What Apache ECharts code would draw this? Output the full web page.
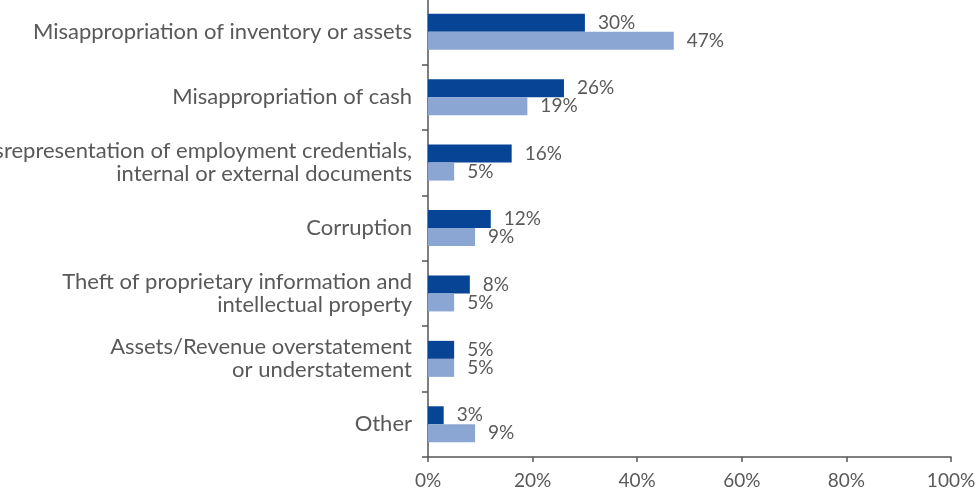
<!DOCTYPE html>
<html><head><meta charset="utf-8">
<script src="https://cdn.jsdelivr.net/npm/echarts@6/dist/echarts.min.js"></script>
<style>html,body{margin:0;padding:0;background:#fff}#c{width:975px;height:498px}</style>
</head><body><div id="c"></div>
<script>
var categories = [
  "Misappropriation of inventory or assets",
  "Misappropriation of cash",
  "Misrepresentation of employment credentials,\ninternal or external documents",
  "Corruption",
  "Theft of proprietary information and\nintellectual property",
  "Assets/Revenue overstatement\nor understatement",
  "Other"
];
var seriesA = [30, 26, 16, 12, 8, 5, 3];
var seriesB = [47, 19, 5, 9, 5, 5, 9];
var xTicks = [0, 20, 40, 60, 80, 100];

var font = "Lato";
var chart = echarts.init(document.getElementById('c'), null, {renderer: 'canvas'});
chart.setOption({
  animation: false,
  backgroundColor: '#fff',
  grid: {left: 428, right: 24, top: -1, bottom: 41, containLabel: false, outerBoundsMode: 'none'},
  xAxis: {
    type: 'value', min: xTicks[0], max: xTicks[xTicks.length - 1], interval: 20,
    axisLine: {show: true, lineStyle: {color: '#555', width: 1.5}},
    axisTick: {show: true, length: 5, lineStyle: {color: '#555', width: 1.5}},
    splitLine: {show: false},
    axisLabel: {formatter: function(v){return v + '%';}, color: '#595959', fontFamily: font, fontSize: 19, margin: 14}
  },
  yAxis: {
    type: 'category', data: categories, inverse: true,
    axisLine: {show: true, lineStyle: {color: '#555', width: 1.5}},
    axisTick: {show: true, length: 6, inside: false, lineStyle: {color: '#555', width: 1.5}},
    axisLabel: {color: '#595959', fontFamily: font, fontSize: 22, lineHeight: 23, margin: 16, align: 'right'}
  },
  series: [
    {type: 'bar', data: seriesA, barWidth: 18, barGap: '0%',
     itemStyle: {color: '#074495'},
     label: {show: true, position: 'right', distance: 13, formatter: '{c}%', color: '#595959', fontFamily: font, fontSize: 19}},
    {type: 'bar', data: seriesB, barWidth: 18, barGap: '0%',
     itemStyle: {color: '#8ba6d3'},
     label: {show: true, position: 'right', distance: 13, formatter: '{c}%', color: '#595959', fontFamily: font, fontSize: 19}}
  ]
});
</script></body></html>
